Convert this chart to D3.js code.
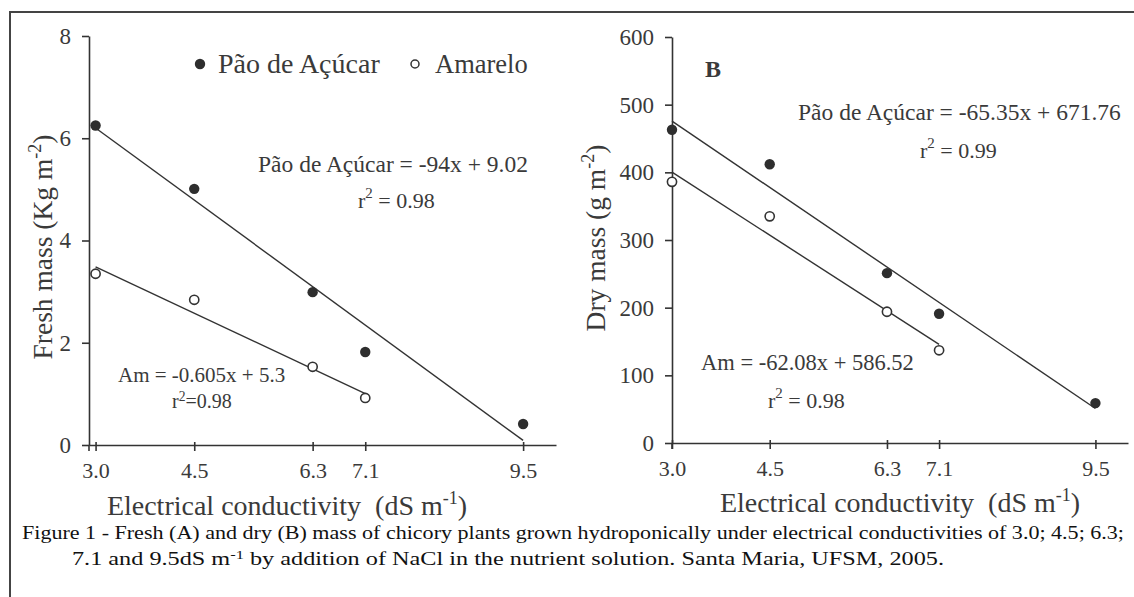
<!DOCTYPE html>
<html>
<head>
<meta charset="utf-8">
<script src="https://cdn.jsdelivr.net/npm/d3@7"></script>
<style>
  html, body { margin: 0; padding: 0; background: #fff; }
  svg text { font-family: "Liberation Serif", "DejaVu Serif", serif; white-space: pre; }
</style>
</head>
<body>
<div id="chart"></div>
<script>
// values
const ecLevels = [3.0, 4.5, 6.3, 7.1, 9.5];
const ecTicks = [3.0, 4.5, 6.3, 7.1, 9.5];

const freshPao = [6.25, 5.01, 2.99, 1.82, 0.41];
const freshAmarelo = [3.35, 2.84, 1.53, 0.92];
const freshTicks = [0, 2, 4, 6, 8];
const freshFitPao = [-0.94, 9.02];      // slope, intercept
const freshFitAmarelo = [-0.605, 5.3];

const dryPao = [463, 412, 251, 191, 59];
const dryAmarelo = [386, 335, 194, 137];
const dryTicks = [0, 100, 200, 300, 400, 500, 600];
const dryFitPao = [-65.35, 671.76];
const dryFitAmarelo = [-62.08, 586.52];

const width = 1134;
const height = 597;
const ink = '#333';
const textInk = '#3a3a3a';

const svg = d3.select('#chart').append('svg')
  .attr('width', width).attr('height', height);

// frame (only left and top edges show)
svg.append('path')
  .attr('d', `M10,${height} L10,12 L${width},12`)
  .attr('fill', 'none').attr('stroke', '#444').attr('stroke-width', 2);

function drawPanel(p) {
  const g = svg.append('g');

  const xAxis = d3.axisBottom(p.x).tickValues(ecTicks)
    .tickFormat(d3.format('.1f')).tickSize(6).tickSizeOuter(0);
  const xg = g.append('g').attr('transform', `translate(0,${p.y(0)})`).call(xAxis);
  xg.select('.domain').attr('stroke', ink).attr('stroke-width', 1.6);
  xg.selectAll('.tick line').attr('stroke', ink).attr('stroke-width', 1.6).attr('y1', -3);
  xg.selectAll('.tick text').attr('fill', textInk).attr('font-size', 22)
    .attr('y', 17).attr('dy', '0.71em')
    .attr('font-family', '"Liberation Serif", serif');

  const yAxis = d3.axisLeft(p.y).tickValues(p.yTicks).tickSize(7).tickSizeOuter(0);
  const yg = g.append('g').attr('transform', `translate(${p.x.range()[0]},0)`).call(yAxis);
  yg.select('.domain').attr('stroke', ink).attr('stroke-width', 1.6);
  yg.selectAll('.tick line').attr('stroke', ink).attr('stroke-width', 1.6);
  yg.selectAll('.tick text').attr('fill', textInk).attr('font-size', 23)
    .attr('x', -18).attr('font-family', '"Liberation Serif", serif');
  // the y axis pokes a little below the x axis
  g.append('line').attr('x1', p.x.range()[0]).attr('x2', p.x.range()[0])
    .attr('y1', p.y(0)).attr('y2', p.y(0) + 6).attr('stroke', ink).attr('stroke-width', 1.6);

  // regression lines
  const fits = [
    { coef: p.fitPao, x0: 3.0, x1: 9.5 },
    { coef: p.fitAm, x0: 3.0, x1: 7.1 }
  ];
  g.selectAll('.fit').data(fits).enter().append('line')
    .attr('class', 'fit')
    .attr('x1', d => p.x(d.x0)).attr('y1', d => p.y(d.coef[0] * d.x0 + d.coef[1]))
    .attr('x2', d => p.x(d.x1)).attr('y2', d => p.y(d.coef[0] * d.x1 + d.coef[1]))
    .attr('stroke', ink).attr('stroke-width', 1.4);

  // points
  g.selectAll('.pao').data(p.pao).enter().append('circle')
    .attr('class', 'pao')
    .attr('cx', (d, i) => p.x(ecLevels[i])).attr('cy', d => p.y(d))
    .attr('r', 5.2).attr('fill', '#2e2e2e');
  g.selectAll('.am').data(p.am).enter().append('circle')
    .attr('class', 'am')
    .attr('cx', (d, i) => p.x(ecLevels[i])).attr('cy', d => p.y(d))
    .attr('r', 4.6).attr('fill', '#fff').attr('stroke', '#333').attr('stroke-width', 1.6);

  // y title
  const yt = g.append('text')
    .attr('transform', `translate(${p.yTitleX},${p.yTitleY}) rotate(-90)`)
    .attr('text-anchor', 'middle').attr('font-size', 27.5).attr('fill', textInk);
  yt.append('tspan').text(p.yTitle);
  yt.append('tspan').attr('dy', -11).attr('font-size', 18).text('-2');
  yt.append('tspan').attr('dy', 11).text(')');

  // x title
  const xt = g.append('text')
    .attr('x', p.xTitleX).attr('y', p.xTitleY)
    .attr('font-size', 28).attr('fill', textInk)
    .attr('text-anchor', 'middle');
  xt.append('tspan').text('Electrical conductivity  (dS m');
  xt.append('tspan').attr('dy', -11).attr('font-size', 18).text('-1');
  xt.append('tspan').attr('dy', 11).text(')');

  return g;
}

function label(g, x, y, size, parts, opts = {}) {
  const t = g.append('text').attr('x', x).attr('y', y)
    .attr('font-size', size).attr('fill', opts.fill || textInk);
  if (opts.anchor) t.attr('text-anchor', opts.anchor);
  if (opts.weight) t.attr('font-weight', opts.weight);
  parts.forEach(pt => {
    const s = t.append('tspan').text(pt.t);
    if (pt.sup) s.attr('dy', -pt.sup).attr('font-size', size * 0.68);
    if (pt.down) s.attr('dy', pt.down);
  });
  return t;
}

// ---- panel A
const xA = d3.scaleLinear().domain([2.9, 10]).range([89, 556]);
const yA = d3.scaleLinear().domain([0, 8]).range([445, 36]);
const gA = drawPanel({
  x: xA, y: yA, yTicks: freshTicks, pao: freshPao, am: freshAmarelo,
  fitPao: freshFitPao, fitAm: freshFitAmarelo,
  yTitle: 'Fresh mass (Kg m', yTitleX: 52, yTitleY: 247,
  xTitleX: 287, xTitleY: 515
});

// legend
gA.append('circle').attr('cx', 200).attr('cy', 64).attr('r', 5.2).attr('fill', '#2e2e2e');
label(gA, 218, 73, 28, [{ t: 'Pão de Açúcar' }]);
gA.append('circle').attr('cx', 415).attr('cy', 64).attr('r', 4).attr('fill', '#fff')
  .attr('stroke', '#333').attr('stroke-width', 1.5);
label(gA, 435, 73, 26.5, [{ t: 'Amarelo' }]);

label(gA, 258, 172, 23.5, [{ t: 'Pão de Açúcar = -94x + 9.02' }]);
label(gA, 358, 208, 22, [{ t: 'r' }, { t: '2', sup: 10 }, { t: ' = 0.98', down: 10 }]);
label(gA, 118, 382, 21, [{ t: 'Am = -0.605x + 5.3' }]);
label(gA, 172, 408, 20, [{ t: 'r' }, { t: '2', sup: 7 }, { t: '=0.98', down: 7 }]);

// ---- panel B
const xB = d3.scaleLinear().domain([3.0, 10]).range([672, 1128]);
const yB = d3.scaleLinear().domain([0, 600]).range([443, 37]);
const gB = drawPanel({
  x: xB, y: yB, yTicks: dryTicks, pao: dryPao, am: dryAmarelo,
  fitPao: dryFitPao, fitAm: dryFitAmarelo,
  yTitle: 'Dry mass (g m', yTitleX: 605, yTitleY: 238,
  xTitleX: 900, xTitleY: 512
});

label(gB, 705, 77, 24, [{ t: 'B' }], { weight: 'bold' });
label(gB, 798, 120, 23.5, [{ t: 'Pão de Açúcar = -65.35x + 671.76' }]);
label(gB, 920, 158, 22, [{ t: 'r' }, { t: '2', sup: 10 }, { t: ' = 0.99', down: 10 }]);
label(gB, 701, 370, 22.5, [{ t: 'Am = -62.08x + 586.52' }]);
label(gB, 768, 408, 22, [{ t: 'r' }, { t: '2', sup: 10 }, { t: ' = 0.98', down: 10 }]);

// ---- caption
svg.append('text').attr('x', 22).attr('y', 539)
  .attr('font-size', 18).attr('fill', '#111')
  .attr('textLength', 1102).attr('lengthAdjust', 'spacingAndGlyphs')
  .text('Figure 1 - Fresh (A) and dry (B) mass of chicory plants grown hydroponically under electrical conductivities of 3.0; 4.5; 6.3;');
label(svg, 72, 565, 18, [
  { t: '7.1 and 9.5dS m' }, { t: '-1', sup: 6 },
  { t: ' by addition of NaCl in the nutrient solution. Santa Maria, UFSM, 2005.', down: 6 }
], { fill: '#111' })
  .attr('textLength', 872).attr('lengthAdjust', 'spacingAndGlyphs');
</script>
</body>
</html>
